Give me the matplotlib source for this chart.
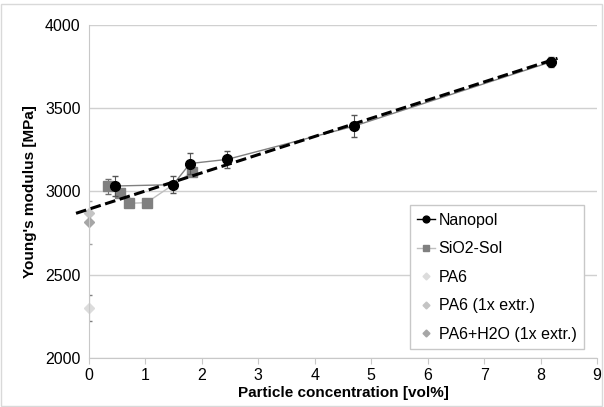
import numpy as np
import matplotlib.pyplot as plt
from matplotlib.patches import Rectangle

plt.rcParams['font.family'] = ['Liberation Sans', 'DejaVu Sans']

# Nanopol
nano_x = [0.46, 1.49, 1.79, 2.45, 4.70, 8.18]
nano_y = [3033, 3041, 3168, 3193, 3393, 3778]
nano_err = [60, 50, 65, 50, 65, 30]

# SiO2-Sol
sio_x = [0.34, 0.55, 0.71, 1.02, 1.83]
sio_y = [3032, 2993, 2929, 2933, 3118]
sio_err = [45, 0, 0, 0, 0]

# PA6 references at zero filler
pa6_y, pa6_err = 2300, 78
pa6x_y = 2868
pa6h_y, pa6h_err = 2815, 130

# trend line
trend_x = [-0.23, 8.30]
trend_y = [2869, 3800]

fig = plt.figure(figsize=(6.04, 4.07), dpi=100)
ax = fig.add_axes([89/604, 1-358/407, 508/604, 333/407])

fig.patches.append(Rectangle((0.002, 0.002), 0.994, 0.988, transform=fig.transFigure,
                             fill=False, edgecolor='#d9d9d9', lw=1))

ax.set_xlim(0, 9)
ax.set_ylim(2000, 4000)
ax.set_yticks(np.arange(2000, 4001, 500))
ax.set_xticks(range(0, 10))
ax.grid(axis='y', color='#d0d0d0', lw=1)
ax.set_axisbelow(True)
for s in ['top', 'right']:
    ax.spines[s].set_visible(False)
ax.spines['left'].set_color('#c8c8c8')
ax.spines['bottom'].set_color('#c8c8c8')
ax.tick_params(axis='y', length=0, labelsize=11.5, pad=6)
ax.tick_params(axis='x', direction='out', color='#c8c8c8', length=4, labelsize=11.5)

ax.errorbar(0, pa6h_y, yerr=pa6h_err, fmt='none', ecolor='#a0a0a0', elinewidth=0.8, capsize=2)
ax.errorbar(0, pa6_y, yerr=pa6_err, fmt='none', ecolor='#808080', elinewidth=0.8, capsize=2)
ax.plot([0], [pa6_y], ls='none', marker='D', ms=5, color='#dcdcdc', label='PA6', clip_on=False)
ax.plot([0], [pa6x_y], ls='none', marker='D', ms=5, color='#c4c4c4', label='PA6 (1x extr.)', clip_on=False)
ax.plot([0], [pa6h_y], ls='none', marker='D', ms=5, color='#a6a6a6', label='PA6+H2O (1x extr.)', clip_on=False)

ax.errorbar(sio_x, sio_y, yerr=sio_err, fmt='none', ecolor='#707070', elinewidth=0.8, capsize=2)
ax.plot(sio_x, sio_y, color='#bfbfbf', lw=1, marker='s', ms=6.5, mfc='#808080', mec='#808080',
        label='SiO2-Sol')

ax.errorbar(nano_x, nano_y, yerr=nano_err, fmt='none', ecolor='#555555', elinewidth=0.8, capsize=2)
ax.plot(nano_x, nano_y, color='#808080', lw=1, marker='o', ms=7, mfc='black', mec='black',
        label='Nanopol')

ax.plot(trend_x, trend_y, color='black', ls='--', lw=2.2, dashes=(3.5, 1.5), clip_on=False)

ax.set_xlabel('Particle concentration [vol%]', fontsize=11, fontweight='bold', labelpad=2)
ax.set_ylabel("Young's modulus [MPa]", fontsize=11, fontweight='bold', labelpad=6)

h, l = ax.get_legend_handles_labels()
order = ['Nanopol', 'SiO2-Sol', 'PA6', 'PA6 (1x extr.)', 'PA6+H2O (1x extr.)']
hh = []
for name in order:
    hh.append(h[l.index(name)])
leg = ax.legend(hh, order, loc='lower right', bbox_to_anchor=(0.974, 0.027), fontsize=11.5,
                frameon=True, fancybox=False, edgecolor='#c8c8c8', framealpha=1,
                handlelength=1.1, handletextpad=0.25, labelspacing=0.85, borderpad=0.45,
                borderaxespad=0, markerscale=0.7)
leg.get_frame().set_linewidth(1)
for line in leg.get_lines():
    if line.get_label() == 'Nanopol':
        line.set_color('black')

fig.savefig('out.png', dpi=100)
